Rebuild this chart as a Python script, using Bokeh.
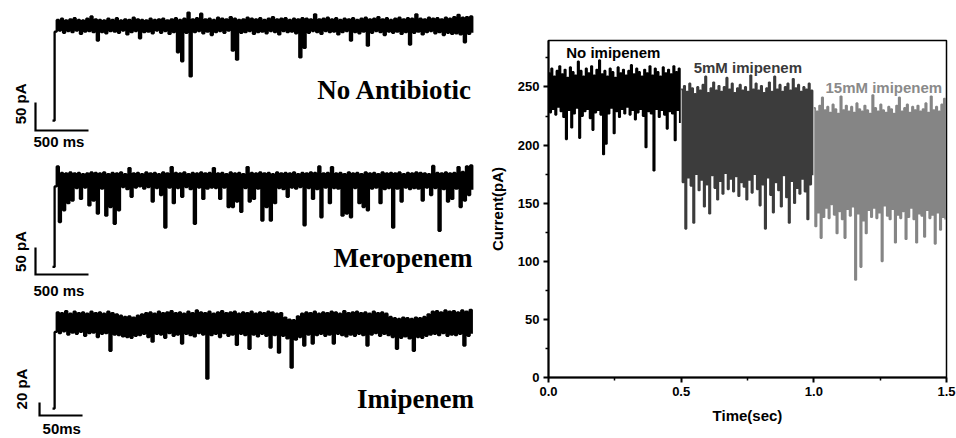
import numpy as np
from math import pi
from bokeh.plotting import figure
from bokeh.layouts import row, column
from bokeh.models import Range1d, Label, FixedTicker, NumeralTickFormatter
from bokeh.embed import file_html
from bokeh.resources import INLINE

# ---------------- data ----------------
# Left traces: current relative to the open-pore baseline (pA), sampled every DT ms
DT_NO_ANTIBIOTIC = 19.9   # ms
DT_MEROPENEM = 19.9       # ms
DT_IMIPENEM = 2.45        # ms

no_antibiotic = [
    -170, -11, 10, -9, 12, -13, 9, -10, 11, -12,
    13, -9, 10, -15, 9, -11, 12, -10, 16, -12,
    11, -27, 10, -12, 9, -14, 12, -10, 10, -11,
    13, -13, 9, -9, 11, -16, 10, -12, 14, -10,
    11, -23, 10, -12, 9, -11, 12, -14, 10, -9,
    11, -13, 12, -10, 9, -15, 11, -12, 13, -48,
    10, -64, 12, -13, 23, -91, 11, -12, 13, -10,
    21, -14, 11, -11, 12, -17, 10, -12, 14, -10,
    12, -13, 11, -9, 15, -45, 12, -61, 10, -13,
    11, -12, 14, -10, 12, -15, 11, -12, 13, -11,
    10, -14, 12, -10, 15, -12, 11, -16, 12, -10,
    13, -12, 10, -11, 12, -14, 11, -57, 13, -40,
    12, -13, 11, -10, 20, -12, 11, -15, 12, -10,
    14, -12, 11, -11, 13, -16, 10, -12, 12, -10,
    11, -27, 13, -12, 10, -14, 12, -11, 14, -36,
    11, -13, 12, -10, 15, -12, 11, -17, 13, -11,
    10, -13, 12, -11, 14, -15, 11, -12, 13, -34,
    12, -13, 20, -11, 12, -16, 11, -12, 14, -10,
    12, -14, 13, -12, 11, -17, 14, -13, 12, -15,
    15, -14, 19, -16, 14, -30, 15, -15, 16, -13,
]

meropenem = [
    -161, -12, 25, -78, 13, -56, 12, -43, 14, -38,
    12, -15, 13, -35, 11, -14, 12, -47, 14, -38,
    13, -62, 12, -16, 14, -66, 11, -50, 13, -81,
    12, -56, 14, -13, 11, -17, 22, -31, 12, -14,
    13, -12, 11, -16, 14, -13, 12, -40, 13, -15,
    11, -28, 14, -88, 12, -14, 24, -43, 13, -15,
    12, -31, 14, -13, 11, -17, 13, -81, 12, -14,
    14, -35, 12, -16, 13, -14, 22, -15, 12, -35,
    13, -14, 11, -50, 14, -50, 12, -40, 13, -59,
    11, -15, 24, -40, 13, -35, 12, -16, 14, -75,
    12, -50, 13, -75, 11, -43, 14, -15, 12, -17,
    13, -31, 12, -14, 14, -16, 11, -13, 13, -84,
    12, -15, 14, -35, 13, -17, 25, -69, 12, -14,
    13, -43, 24, -15, 12, -16, 13, -66, 11, -62,
    14, -69, 12, -15, 13, -43, 11, -50, 14, -56,
    12, -16, 13, -14, 11, -43, 14, -17, 12, -15,
    13, -88, 12, -16, 14, -40, 11, -14, 13, -17,
    12, -15, 14, -16, 13, -38, 12, -14, 11, -28,
    26, -15, 13, -94, 12, -17, 14, -40, 12, -35,
    13, -16, 24, -50, 15, -38, 25, -28, 27, -18,
]

imipenem = [
    -134, -16, 14, -18, 13, -15, 16, -20, 12, -17,
    15, -19, 13, -16, 14, -22, 12, -18, 15, -17,
    13, -24, 14, -19, 12, -18, 15, -45, 13, -20,
    11, -21, 9, -23, 7, -24, 8, -25, 6, -22,
    9, -21, 11, -19, 13, -24, 14, -31, 12, -19,
    15, -20, 13, -25, 14, -18, 16, -22, 13, -20,
    14, -34, 12, -19, 15, -21, 13, -23, 17, -18,
    14, -20, 13, -88, 15, -21, 12, -19, 14, -24,
    16, -18, 13, -22, 14, -20, 15, -36, 12, -19,
    14, -21, 13, -42, 15, -20, 12, -23, 14, -19,
    13, -22, 15, -40, 14, -21, 12, -48, 13, -22,
    6, -26, 3, -71, 2, -28, 8, -24, 12, -37,
    14, -20, 13, -34, 15, -21, 12, -19, 14, -22,
    13, -20, 15, -34, 14, -19, 12, -21, 16, -23,
    13, -20, 14, -22, 15, -19, 13, -21, 14, -37,
    12, -20, 15, -18, 13, -22, 14, -19, 12, -21,
    7, -24, 5, -42, 4, -25, 6, -23, 5, -26,
    4, -45, 6, -24, 5, -25, 7, -22, 11, -20,
    15, -19, 16, -21, 14, -18, 17, -22, 15, -20,
    16, -21, 14, -19, 17, -37, 15, -22, 18, -19,
]

# Scale bars
SCALE_T_LONG = 500   # ms
SCALE_T_SHORT = 50   # ms
SCALE_I_50 = 50      # pA
SCALE_I_20 = 20      # pA

# Right panel: current (pA) vs time (s), sampled every 5 ms
DT_RIGHT = 0.005
SEG_START = [0.0, 0.5, 1.0]
SEG_LABELS = ["No imipenem", "5mM imipenem", "15mM imipenem"]

no_imipenem = [
    262, 228, 266, 231, 259, 226, 264, 233, 268, 229,
    261, 224, 265, 205, 258, 230, 267, 215, 263, 227,
    260, 232, 272, 206, 264, 225, 259, 229, 266, 231,
    262, 223, 268, 213, 260, 228, 265, 230, 273, 226,
    261, 192, 264, 201, 259, 227, 266, 232, 263, 210,
    258, 229, 267, 224, 262, 231, 265, 227, 260, 233,
    264, 226, 269, 230, 261, 222, 266, 228, 263, 231,
    259, 225, 265, 198, 262, 229, 268, 227, 260, 178,
    266, 231, 263, 224, 259, 230, 267, 226, 262, 214,
    265, 229, 261, 227, 268, 204, 263, 230, 266, 219,
]
imipenem_5mM = [
    248, 168, 251, 128, 246, 172, 253, 165, 249, 133,
    244, 175, 250, 161, 247, 170, 252, 147, 259, 166,
    245, 141, 249, 174, 254, 163, 247, 153, 251, 169,
    246, 158, 250, 176, 258, 162, 248, 171, 253, 160,
    245, 173, 249, 156, 252, 168, 247, 164, 250, 153,
    246, 170, 260, 159, 248, 175, 253, 162, 247, 148,
    251, 166, 245, 128, 249, 172, 254, 157, 246, 142,
    259, 168, 248, 161, 252, 147, 246, 174, 250, 155,
    253, 133, 247, 169, 257, 150, 249, 163, 252, 158,
    246, 171, 250, 160, 248, 136, 253, 166, 247, 174,
]
imipenem_15mM = [
    232, 130, 229, 142, 234, 120, 241, 138, 230, 146,
    233, 137, 228, 149, 235, 140, 231, 124, 227, 143,
    242, 136, 230, 120, 234, 145, 229, 139, 233, 147,
    228, 84, 236, 141, 231, 95, 229, 135, 234, 124,
    230, 144, 227, 138, 243, 146, 232, 137, 229, 142,
    235, 100, 230, 148, 228, 139, 233, 136, 231, 145,
    227, 116, 234, 140, 241, 137, 229, 143, 232, 119,
    235, 138, 228, 146, 233, 136, 230, 116, 234, 141,
    229, 139, 231, 121, 236, 144, 228, 137, 242, 140,
    230, 115, 233, 142, 229, 127, 235, 138, 240, 136,
]

X_TICKS = [0.0, 0.5, 1.0, 1.5]
X_MINOR = [0.25, 0.75, 1.25]
Y_TICKS = [0, 50, 100, 150, 200, 250]
Y_MINOR = [25, 75, 125, 175, 225, 275]

# ---------------- styling / layout ----------------
SANS = "Liberation Sans"
SERIF = "Liberation Serif"
LW = 480
RIGHT_W = 476
SEG_COLORS = ["#000000", "#3c3c3c", "#858585"]
TXT_COLORS = ["#000000", "#3a3a3a", "#8a8a8a"]


def trace_fig(height, xr, yr):
    f = figure(width=LW, height=height, x_range=Range1d(*xr), y_range=Range1d(*yr),
               x_axis_type=None, y_axis_type=None, output_backend="svg",
               toolbar_location=None, min_border=0,
               min_border_left=0, min_border_right=0, min_border_top=0, min_border_bottom=0)
    f.grid.visible = False
    f.outline_line_color = None
    f.background_fill_color = "white"
    return f


def add_trace(f, vals, dt, scale_x0, scale_y0, t_len, i_len,
              ilabel, ilabel_xy, tlabel, tlabel_xy, name, name_xy):
    t = np.arange(len(vals)) * dt
    f.step(t, vals, mode="after", line_color="black", line_width=2.3)
    # scale bar (L shape)
    f.line([scale_x0, scale_x0, scale_x0 + t_len],
           [scale_y0 + i_len, scale_y0, scale_y0],
           line_color="black", line_width=2.2, line_join="miter")
    f.add_layout(Label(x=ilabel_xy[0], y=ilabel_xy[1], text=ilabel, angle=pi / 2,
                       text_align="center", text_baseline="middle",
                       text_font=SANS, text_font_style="bold", text_font_size="15px",
                       text_color="black"))
    f.add_layout(Label(x=tlabel_xy[0], y=tlabel_xy[1], text=tlabel,
                       text_align="left", text_baseline="middle",
                       text_font=SANS, text_font_style="bold", text_font_size="15px",
                       text_color="black"))
    f.add_layout(Label(x=name_xy[0], y=name_xy[1], text=name,
                       text_align="right", text_baseline="alphabetic",
                       text_font=SERIF, text_font_style="bold", text_font_size="27px",
                       text_color="black"))


f1 = trace_fig(152, (-490.6, 4037.7), (-226.8, 44.6))
add_trace(f1, no_antibiotic, DT_NO_ANTIBIOTIC, -160.4, -187.5, SCALE_T_LONG, SCALE_I_50,
          "50 pA", (-302, -140), "500 ms", (-179, -208), "No Antibiotic", (3962, -116))

f2 = trace_fig(146, (-490.6, 4037.7), (-219.4, 50.9))
add_trace(f2, meropenem, DT_MEROPENEM, -160.4, -175, SCALE_T_LONG, SCALE_I_50,
          "50 pA", (-302, -132.4), "500 ms", (-179, -204.6), "Meropenem", (3962, -143.5))

f3 = trace_fig(140, (-60.5, 497.7), (-180.0, 35.4))
add_trace(f3, imipenem, DT_IMIPENEM, -15.1, -144.6, SCALE_T_SHORT, SCALE_I_20,
          "20 pA", (-36, -103.8), "50ms", (-11.6, -165.0), "Imipenem", (490, -118.5))

# ---------------- right panel ----------------
p = figure(width=RIGHT_W, height=438, x_range=Range1d(0, 1.5), y_range=Range1d(0, 290),
           output_backend="svg", toolbar_location=None,
           min_border_left=68, min_border_right=10, min_border_top=40, min_border_bottom=61)
p.grid.visible = False
p.outline_line_color = "black"
p.outline_line_width = 1.5

segments = [no_imipenem, imipenem_5mM, imipenem_15mM]
for k, seg in enumerate(segments):
    t = SEG_START[k] + np.arange(len(seg)) * DT_RIGHT
    p.step(t, seg, mode="after", line_color=SEG_COLORS[k], line_width=1.8)

label_pos = [(0.067, 279.8), (0.547, 266.9), (1.044, 249.7)]
for k, lab in enumerate(SEG_LABELS):
    p.add_layout(Label(x=label_pos[k][0], y=label_pos[k][1], text=lab,
                       text_align="left", text_baseline="middle",
                       text_font=SANS, text_font_style="bold", text_font_size="15px",
                       text_color=TXT_COLORS[k]))

p.xaxis.ticker = FixedTicker(ticks=X_TICKS, minor_ticks=X_MINOR)
p.yaxis.ticker = FixedTicker(ticks=Y_TICKS, minor_ticks=Y_MINOR)
p.xaxis.formatter = NumeralTickFormatter(format="0.0")
p.yaxis.formatter = NumeralTickFormatter(format="0")
p.xaxis.axis_label = "Time(sec)"
p.yaxis.axis_label = "Current(pA)"
for ax in (p.xaxis[0], p.yaxis[0]):
    ax.axis_line_width = 2
    ax.axis_line_color = "black"
    ax.major_tick_line_width = 2
    ax.minor_tick_line_width = 1.5
    ax.major_tick_out = 5
    ax.major_tick_in = 0
    ax.minor_tick_out = 3
    ax.minor_tick_in = 0
    ax.major_label_text_font = SANS
    ax.major_label_text_font_style = "bold"
    ax.major_label_text_font_size = "13px"
    ax.major_label_text_color = "black"
    ax.axis_label_text_font = SANS
    ax.axis_label_text_font_style = "bold"
    ax.axis_label_text_font_size = "15px"
    ax.axis_label_text_color = "black"
p.xaxis.major_label_standoff = 4
p.yaxis.major_label_standoff = 4
p.xaxis.axis_label_standoff = 8
p.yaxis.axis_label_standoff = 9

layout = row(column(f1, f2, f3), p)
open("out.html", "w").write(file_html(layout, INLINE))
